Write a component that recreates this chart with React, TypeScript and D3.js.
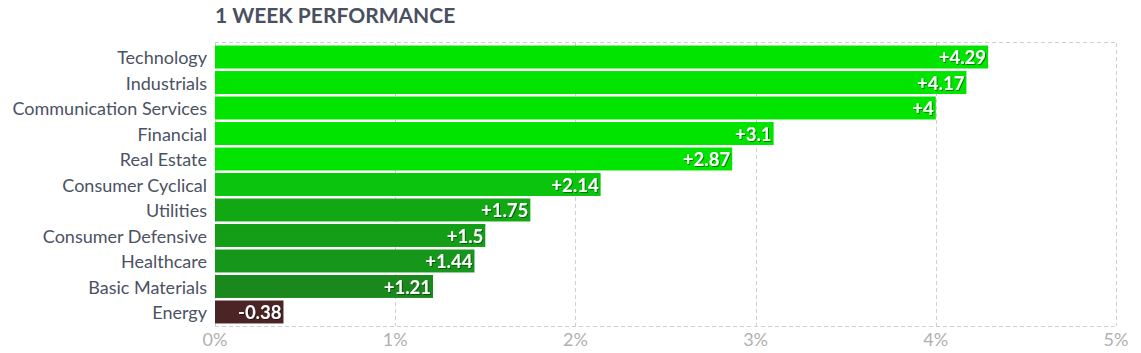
import React from "react";
import * as d3 from "d3";

const categories = [
  "Technology",
  "Industrials",
  "Communication Services",
  "Financial",
  "Real Estate",
  "Consumer Cyclical",
  "Utilities",
  "Consumer Defensive",
  "Healthcare",
  "Basic Materials",
  "Energy",
];
const values = [4.29, 4.17, 4, 3.1, 2.87, 2.14, 1.75, 1.5, 1.44, 1.21, -0.38];
const barColors = [
  "#00e400", "#00e400", "#00e400", "#00e400", "#00e400",
  "#0bc40d", "#11a813", "#149d17", "#16961a", "#1b881d", "#4b2526",
];
const ticks = [0, 1, 2, 3, 4, 5];

const W = 1141;
const H = 353;
const m = { left: 215, right: 25, top: 43, bottom: 27 };

export default function App() {
  const x = d3.scaleLinear().domain([0, 5]).range([m.left, 1116]);
  const y = d3
    .scaleBand<string>()
    .domain(categories)
    .range([m.top, H - m.bottom])
    .paddingInner(0.1)
    .paddingOuter(0.1);
  const font = "Lato, 'Open Sans', sans-serif";
  return (
    <svg
      width={W}
      height={H}
      style={{ position: "absolute", left: 0, top: 0, fontFamily: font }}
    >
      <defs>
        <filter id="ts" x="-10%" y="-10%" width="130%" height="140%">
          <feDropShadow dx="1" dy="1" stdDeviation="0.3" floodColor="#000" floodOpacity="0.45" />
        </filter>
      </defs>
      <text x={215} y={23} fontSize={21} fontWeight={700} fill="#4a5060">
        1 WEEK PERFORMANCE
      </text>
      {ticks.map((t) => (
        <line
          key={"g" + t}
          x1={Math.round(x(t)) + 0.5}
          x2={Math.round(x(t)) + 0.5}
          y1={m.top}
          y2={H - m.bottom}
          stroke="#d0d0d0"
          strokeDasharray="4,3"
        />
      ))}
      <line x1={m.left} x2={x(5)} y1={m.top - 0.5} y2={m.top - 0.5} stroke="#d0d0d0" strokeDasharray="4,3" />
      <line x1={m.left} x2={x(5)} y1={H - m.bottom + 0.5} y2={H - m.bottom + 0.5} stroke="#d0d0d0" strokeDasharray="4,3" />
      {categories.map((c, i) => {
        const v = values[i];
        const w = x(Math.abs(v)) - x(0);
        const yy = y(c)!;
        const label = (v > 0 ? "+" : "") + v;
        return (
          <g key={c}>
            <rect x={x(0)} y={yy} width={w} height={y.bandwidth()} fill={barColors[i]} />
            <text
              x={x(0) - 8}
              y={yy + y.bandwidth() / 2}
              dy="0.4em"
              textAnchor="end"
              fontSize={18}
              fill="#4b5263"
            >
              {c}
            </text>
            <text
              x={x(0) + w - 2}
              y={yy + y.bandwidth() / 2}
              dy="0.38em"
              textAnchor="end"
              fontSize={18.5}
              fontWeight={700}
              fill="#fff"
              filter="url(#ts)"
            >
              {label}
            </text>
          </g>
        );
      })}
      {ticks.map((t) => (
        <text
          key={"t" + t}
          x={x(t)}
          y={346}
          textAnchor="middle"
          fontSize={18}
          fill="#b0b0b0"
        >
          {t + "%"}
        </text>
      ))}
    </svg>
  );
}
